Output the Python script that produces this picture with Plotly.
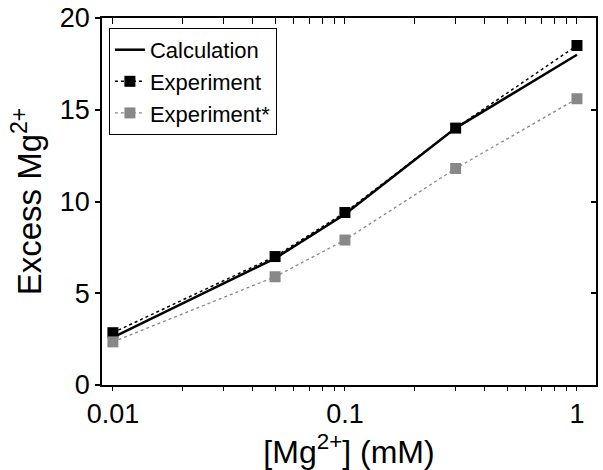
import plotly.graph_objects as go

conc = [0.01, 0.05, 0.1, 0.3, 1.0]
calculation = [2.6, 6.9, 9.3, 14.0, 18.0]
experiment = [2.85, 7.0, 9.4, 14.0, 18.5]
experiment_star = [2.35, 5.9, 7.9, 11.8, 15.6]
y_ticks = [0, 5, 10, 15, 20]
x_ticks = [0.01, 0.02, 0.03, 0.04, 0.05, 0.06, 0.07, 0.08, 0.09,
           0.1, 0.2, 0.3, 0.4, 0.5, 0.6, 0.7, 0.8, 0.9, 1]
x_tick_labels = ["0.01", "", "", "", "", "", "", "", "",
                 "0.1", "", "", "", "", "", "", "", "", "1"]

FONT = "Arial, Liberation Sans, sans-serif"

fig = go.Figure()
fig.add_trace(go.Scatter(x=conc, y=calculation, mode="lines", name="Calculation",
                         line=dict(color="black", width=2.5)))
fig.add_trace(go.Scatter(x=conc, y=experiment, mode="lines+markers", name="Experiment",
                         line=dict(color="black", width=1.5, dash="dot"),
                         marker=dict(symbol="square", size=11, color="black")))
fig.add_trace(go.Scatter(x=conc, y=experiment_star, mode="lines+markers", name="Experiment*",
                         line=dict(color="#888888", width=1.3, dash="dot"),
                         marker=dict(symbol="square", size=11, color="#888888")))
# helper traces for the mirrored inner-tick axes (top and right)
fig.add_trace(go.Scatter(x=[conc[0]], y=[y_ticks[0]], xaxis="x2", yaxis="y",
                         mode="markers", marker=dict(opacity=0), showlegend=False,
                         hoverinfo="skip"))
fig.add_trace(go.Scatter(x=[conc[0]], y=[y_ticks[0]], xaxis="x", yaxis="y2",
                         mode="markers", marker=dict(opacity=0), showlegend=False,
                         hoverinfo="skip"))

xrange = [-2.047, 0.082]
yrange = [0, 20]

fig.update_layout(
    width=603, height=470,
    margin=dict(l=102, r=7, t=18, b=85, autoexpand=False),
    paper_bgcolor="white", plot_bgcolor="white",
    font=dict(family=FONT, color="black", size=27),
    showlegend=True,
    legend=dict(x=0.014, y=0.973, xanchor="left", yanchor="top",
                bordercolor="black", borderwidth=1, bgcolor="white",
                font=dict(size=22, family=FONT), tracegroupgap=0,
                itemwidth=30),
    xaxis=dict(type="log", range=xrange, tickvals=x_ticks, ticktext=x_tick_labels,
               ticks="outside", ticklen=4, tickwidth=1.3, tickcolor="black",
               showline=True, mirror=True, linecolor="black", linewidth=1.5,
               showgrid=False, zeroline=False, automargin=False,
               title=dict(text="[Mg<sup>2+</sup>] (mM)", font=dict(size=32), standoff=2),
               tickfont=dict(size=27)),
    yaxis=dict(range=yrange, tickvals=y_ticks, ticks="outside", ticklen=5, tickwidth=1.5,
               tickcolor="black", showline=True, mirror=True, linecolor="black",
               linewidth=1.5, showgrid=False, zeroline=False, automargin=False,
               title=dict(text="Excess Mg<sup>2+</sup>", font=dict(size=33), standoff=8),
               tickfont=dict(size=27)),
    xaxis2=dict(type="log", range=xrange, overlaying="x", side="top", anchor="y",
                tickvals=x_ticks, showticklabels=False,
                ticks="inside", ticklen=6, tickwidth=1.3, tickcolor="black",
                showline=False, showgrid=False, zeroline=False),
    yaxis2=dict(range=yrange, overlaying="y", side="right", anchor="x",
                tickvals=y_ticks, showticklabels=False, ticks="inside", ticklen=5,
                tickwidth=1.5, tickcolor="black", showline=False, showgrid=False,
                zeroline=False),
)

fig.write_html("out.html", config={"displayModeBar": False},
               post_script="document.body.style.margin='0';document.body.style.overflow='hidden';")
